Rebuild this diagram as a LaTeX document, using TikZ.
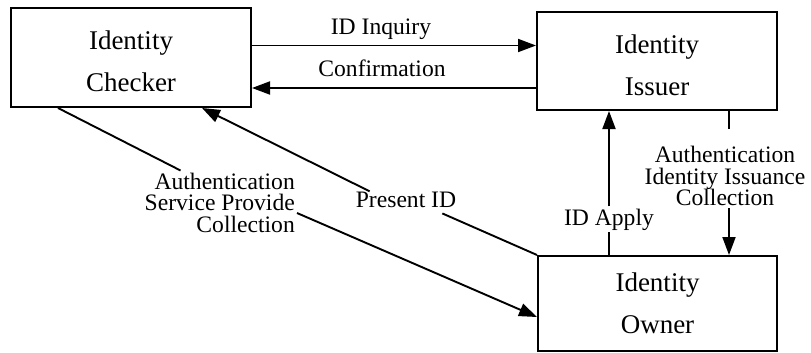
\documentclass[tikz,border=0pt]{standalone}
\usepackage{fontspec}
\setmainfont{Liberation Serif}
\usetikzlibrary{arrows.meta}
\begin{document}
\begin{tikzpicture}[x=1pt,y=-1pt]
\tikzset{
  entity/.style={draw, line width=2pt, minimum width=240pt, minimum height=99pt,
    align=center, inner sep=0pt, font=\fontsize{27}{42}\selectfont},
  flow/.style={line width=1.9pt},
  flowarrow/.style={-{Triangle[length=18pt,width=13pt]}},
  msg/.style={font=\fontsize{23.6}{21.5}\selectfont, inner sep=2pt, align=center}
}
\useasboundingbox (0,0) rectangle (811,353);

% the three parties
\node[entity] (checker) at (131,57.5) {\rule{0pt}{26.4pt}Identity\\Checker};
\node[entity, minimum height=98pt] (issuer) at (657,61) {\rule{0pt}{26.4pt}Identity\\Issuer};
\node[entity, minimum width=239pt, minimum height=95pt] (owner) at (657.5,303.5) {Identity\\Owner};

% helper levels for straight connectors
\coordinate (yinq) at (0,45.5);
\coordinate (yconf) at (0,88);
\coordinate (xapply) at (609,0);
\coordinate (xiss) at (729,0);
\coordinate (isstop) at (729,129);

% checker <-> issuer
\node[msg, anchor=base] (inq) at (381,35) {ID Inquiry};
\node[msg, anchor=base] (conf) at (382,77) {Confirmation};
\draw[flow,flowarrow] (checker.east |- yinq) -- (issuer.west |- yinq);
\draw[flow,flowarrow] (issuer.west |- yconf) -- (checker.east |- yconf);

% owner presents the ID to the checker
\node[msg, anchor=base] (present) at (406,207) {Present ID};
\draw[flow] (owner.north west) -- ([xshift=-16pt,yshift=-4pt]present.south east);
\draw[flow,flowarrow] ([xshift=16pt,yshift=-2pt]present.north west) -- ([xshift=71pt]checker.south);

% checker collects from the owner
\node[msg, align=right, anchor=east] (asp) at (297,202.5) {Authentication\\Service Provide\\Collection};
\draw[flow] ([xshift=-73pt]checker.south) -- ([xshift=38pt]asp.north west);
\draw[flow,flowarrow] ([yshift=-10.5pt]asp.east) -- ([yshift=-13.5pt]owner.west);

% owner applies to the issuer
\node[msg, anchor=base] (apply) at (609,225) {ID Apply};
\draw[flow] (owner.north -| xapply) -- (apply.south -| xapply);
\draw[flow,flowarrow] (apply.north -| xapply) -- (issuer.south -| xapply);

% issuer collects from the owner
\node[msg] (issue) at (725,176) {Authentication\\Identity Issuance\\Collection};
\draw[flow] (issuer.south -| xiss) -- (isstop);
\draw[flow,flowarrow] (issue.south -| xiss) -- (owner.north -| xiss);
\end{tikzpicture}
\end{document}
